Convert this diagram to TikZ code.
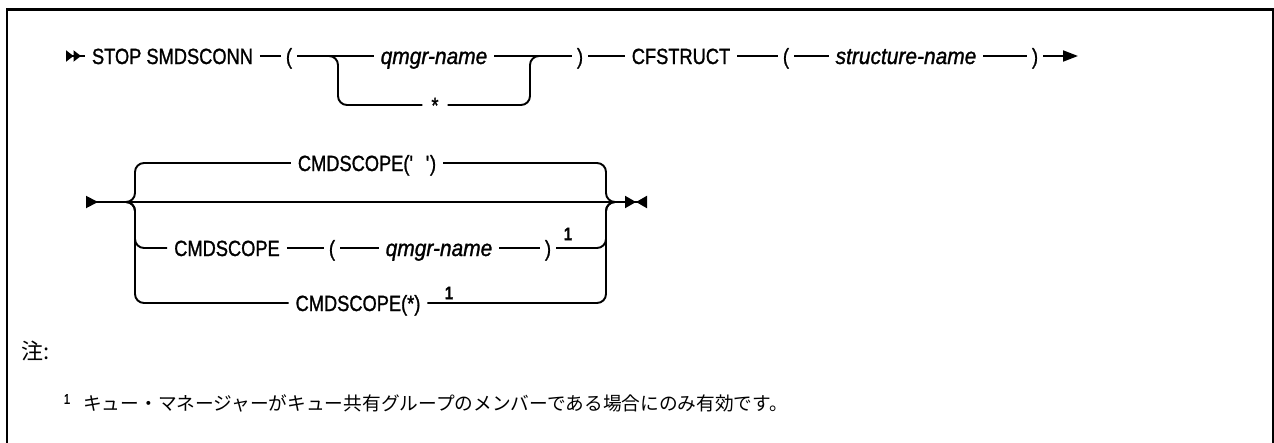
\documentclass[tikz,border=0pt]{standalone}
\usepackage{fontspec}
\usetikzlibrary{arrows.meta}
\newfontfamily\railfont[FakeStretch=0.83,FakeBold=1.2]{Liberation Sans}
\newfontfamily\varfont[FakeStretch=0.91,FakeBold=1.2]{Liberation Sans}
\newfontfamily\jpfont{Noto Sans CJK JP}

\begin{document}
\begin{tikzpicture}[x=1pt, y=1pt,
  kw/.style={font=\railfont\fontsize{22}{26}\selectfont, inner sep=0pt,
             text height=16pt, text depth=0pt, outer xsep=7pt},
  var/.style={kw, font=\varfont\fontsize{23}{26}\selectfont\itshape},
  punct/.style={kw, outer xsep=5pt},
  sup/.style={font=\railfont\fontsize{18}{20}\selectfont\bfseries, inner sep=0pt},
  rail/.style={line width=1.9pt, rounded corners=9pt},
  note/.style={font=\jpfont\fontsize{18.7}{22}\selectfont, inner sep=0pt, anchor=west}
]
  \useasboundingbox (0,0) rectangle (1274,-442);
  \draw[line width=2.4pt] (7.2,-450) |- (1272.8,-9.5) -- (1272.8,-450);

  \node[kw, anchor=west] (stop) at (85,-56) {STOP SMDSCONN};
  \node[punct] (lp1) at (289,-56) {(};
  \node[var]   (qm1) at (434,-56) {qmgr-name};
  \node[punct, outer xsep=9pt] (star) at (435,-105) {*};
  \node[punct] (rp1) at (580,-56) {)};
  \node[kw]    (cfs) at (681,-56) {CFSTRUCT};
  \node[punct] (lp2) at (786,-56) {(};
  \node[var]   (sn)  at (906,-56) {structure-name};
  \node[punct] (rp2) at (1035,-56) {)};
  \coordinate (s1) at (66,-56);
  \coordinate (e1) at (1078,-56);
  \coordinate (f1) at (326,-56);
  \coordinate (m1) at (542,-56);

  \draw[rail, {Triangle[reversed,length=7.5pt,width=11pt]Triangle[reversed,length=7.5pt,width=11pt]}-] (s1) -- (stop);
  \draw[rail] (stop) -- (lp1) (lp1) -- (qm1) (qm1) -- (rp1) (rp1) -- (cfs)
              (cfs) -- (lp2) (lp2) -- (sn) (sn) -- (rp2);
  \draw[rail, -{Triangle[length=15pt,width=11pt]}] (rp2) -- (e1);
  \draw[rail] (f1) -- ([xshift=12pt]f1) |- (star);
  \draw[rail] (star) -| ([xshift=-12pt]m1) -- (m1);

  \coordinate (s2) at (86,-202);
  \coordinate (e2) at (647,-202);
  \coordinate (bl) at (125,-202);
  \coordinate (lv) at (135,-202);
  \coordinate (rv) at (606,-202);
  \coordinate (br) at (616,-202);
  \node[kw]    (cs1) at (367,-163) {CMDSCOPE(\textquotesingle\hspace{0.55em}\textquotesingle)};
  \node[kw]    (cs2) at (227,-248) {CMDSCOPE};
  \node[punct] (lp3) at (332,-248) {(};
  \node[var]   (qm2) at (439,-248) {qmgr-name};
  \node[punct] (rp3) at (548,-248) {)};
  \node[sup]   (n2)  at (568,-234) {1};
  \node[kw]    (cs3) at (358,-303) {CMDSCOPE(*)};
  \node[sup]   (n3)  at (449,-293) {1};

  \draw[rail, {Triangle[reversed,length=12pt,width=12pt]}-{Triangle[length=11pt,width=12pt]Triangle[reversed,length=11pt,width=12pt]}] (s2) -- (e2);
  \foreach \b in {cs1,cs2,cs3} \draw[rail] (bl) -- (lv) |- (\b);
  \foreach \b in {cs1,rp3,cs3} \draw[rail] (\b) -| (rv) -- (br);
  \draw[rail] (cs2) -- (lp3) (lp3) -- (qm2) (qm2) -- (rp3);

  \node[font=\jpfont\fontsize{22}{24}\selectfont, inner sep=0pt, anchor=west] (chu) at (21,-351) {注:};
  \node[font=\railfont\fontsize{14}{16}\selectfont, inner sep=0pt] (fn) at (67,-399) {1};
  \node[note] (fntext) at (83,-403) {キュー・マネージャーがキュー共有グループのメンバーである場合にのみ有効です。};
\end{tikzpicture}
\end{document}
